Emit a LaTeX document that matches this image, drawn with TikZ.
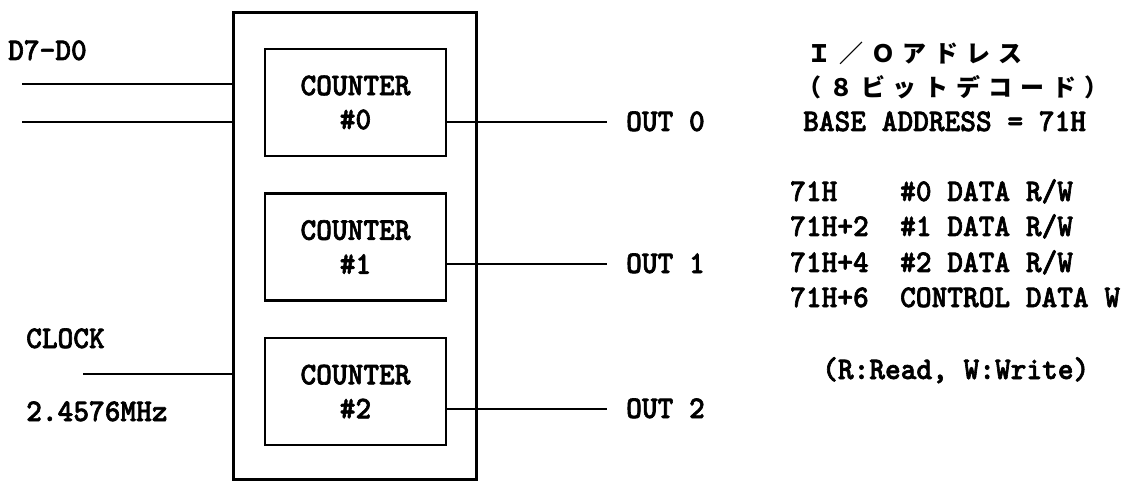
\documentclass[tikz,border=0pt]{standalone}
\usepackage{fontspec}
\newfontfamily\tx[FakeBold=2,FakeStretch=0.95]{lmmonolt10-bold.otf}
\newfontfamily\jp[LetterSpace=33]{Noto Sans CJK JP}
\begin{document}
\begin{tikzpicture}[x=1pt,y=-1pt,
  chipbox/.style={draw, line width=3pt, inner sep=0pt, minimum width=243pt, minimum height=466pt},
  cbox/.style={draw, line width=2.2pt, inner sep=0pt, minimum width=181pt, minimum height=107pt,
    align=center, font=\tx\fontsize{31.5}{34}\selectfont},
  wire/.style={line width=2.2pt},
  lbl/.style={anchor=base west, inner sep=0pt, font=\tx\fontsize{31.5}{34}\selectfont\frenchspacing},
  jlbl/.style={anchor=base west, inner sep=0pt, font=\jp\bfseries\fontsize{24}{28}\selectfont}]
\useasboundingbox (0,0) rectangle (1130,481);
% chip and counters
\node[chipbox] (chip) at (354.5,246) {};
\node[cbox] (c0) at (355.5,102.5) {COUNTER\\\#0};
\node[cbox] (c1) at (355.5,247) {COUNTER\\\#1};
\node[cbox] (c2) at (355.5,391.5) {COUNTER\\\#2};
% input labels and wires
\node[lbl] (d7) at (8,60) {D7-D0};
\node[lbl] (clk) at (26,348) {CLOCK};
\node[lbl] (mhz) at (26,421) {2.4576MHz};
\coordinate (d1) at (22,84);
\coordinate (d2) at (22,122);
\coordinate (ck) at (83,374);
\draw[wire] (d1) -- (d1 -| chip.west);
\draw[wire] (d2) -- (d2 -| chip.west);
\draw[wire] (ck) -- (ck -| chip.west);
% outputs
\node[lbl] (o0) at (626,131) {OUT 0};
\node[lbl] (o1) at (626,273) {OUT 1};
\node[lbl] (o2) at (626,418) {OUT 2};
\coordinate (e0) at (607,122);
\coordinate (e1) at (607,264);
\coordinate (e2) at (607,409);
\draw[wire] (e0 -| c0.east) -- (e0);
\draw[wire] (e1 -| c1.east) -- (e1);
\draw[wire] (e2 -| c2.east) -- (e2);
% address table
\node[jlbl] (io) at (807,63) {Ｉ／Ｏアドレス};
\node[jlbl] (dec) at (797,97) {（８ビットデコード）};
\node[lbl] (base) at (803,131) {BASE ADDRESS = 71H};
\node[lbl] (r0) at (790,201) {71H~~~~\#0 DATA R/W};
\node[lbl] (r1) at (790,236) {71H+2~~\#1 DATA R/W};
\node[lbl] (r2) at (790,272) {71H+4~~\#2 DATA R/W};
\node[lbl] (r3) at (790,307) {71H+6~~CONTROL DATA W};
\node[lbl] (rw) at (822,379) {(R:Read, W:Write)};
\end{tikzpicture}
\end{document}
